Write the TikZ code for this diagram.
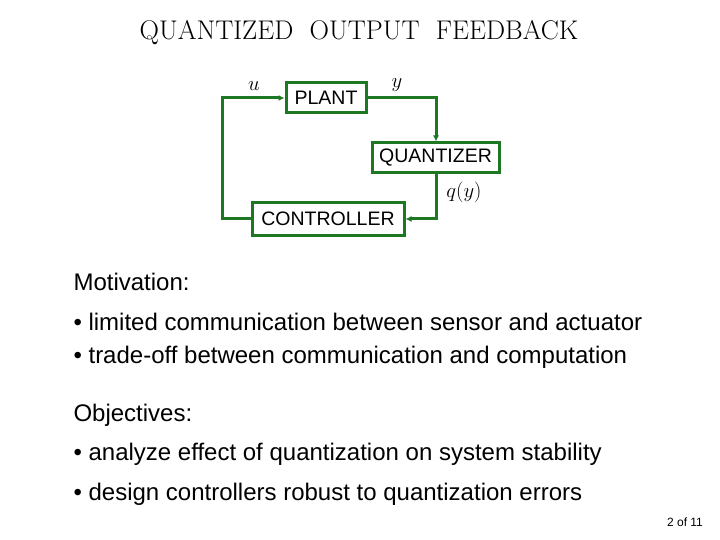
\documentclass[tikz,border=0pt]{standalone}
\usepackage{fontspec}
\setsansfont{Liberation Sans}
\usetikzlibrary{arrows.meta,positioning}
\definecolor{loopgreen}{RGB}{30,120,35}
\begin{document}
\begin{tikzpicture}[x=1pt,y=-1pt,
    blk/.style={
        rectangle,
        draw=loopgreen,
        line width=3pt,
        inner sep=0pt,
        font=\sffamily\fontsize{19.5}{23}\selectfont
    },
    wire/.style={draw=loopgreen, line width=3pt, -{Latex[length=6pt,width=6pt]}},
    body/.style={anchor=west, font=\sffamily\fontsize{24}{28}\selectfont},
    sig/.style={font=\fontsize{22}{26}\selectfont}
]
\useasboundingbox (0,0) rectangle (720,540);
% --- title ---
\node (title) at (359,33) {\fontsize{27}{32}\selectfont QUANTIZED\ \ OUTPUT\ \ FEEDBACK};
% --- blocks ---
\node[blk, minimum width=80pt, minimum height=30pt] (plant) at (326,98) {PLANT};
\node[blk, minimum width=127pt, minimum height=30pt] (quant) at (435.5,158) {QUANTIZER};
\node[blk, minimum width=152pt, minimum height=32pt] (ctrl) at (328,219) {CONTROLLER};
% --- loop ---
\coordinate (ul) at (222,98);
\coordinate (ll) at (222,219);
\coordinate (ur) at (436,98);
\coordinate (lr) at (436,219);
\draw[wire] (plant.east) -- (ur) -- (quant.north -| ur);
\draw[wire] (quant.south -| lr) -- (lr) -- (ctrl.east);
\draw[wire] (ctrl.west) -- (ll) -- (ul) -- (plant.west);
% --- signal labels ---
\node[sig] (u) at (254,86) {$u$};
\node[sig] (y) at (397,85) {$y$};
\node[sig] (qy) at (464,192) {$q(y)$};
% --- text ---
\node[body] (mot) at (70,282) {Motivation:};
\node[body] (m1) at (70,322) {• limited communication between sensor and actuator};
\node[body] (m2) at (70,357) {• trade-off between communication and computation};
\node[body] (obj) at (70,415) {Objectives:};
\node[body] (o1) at (70,454) {• analyze effect of quantization on system stability};
\node[body] (o2) at (70,494) {• design controllers robust to quantization errors};
\node[font=\sffamily\fontsize{12}{14}\selectfont] (pg) at (685,522) {2 of 11};
\end{tikzpicture}
\end{document}
